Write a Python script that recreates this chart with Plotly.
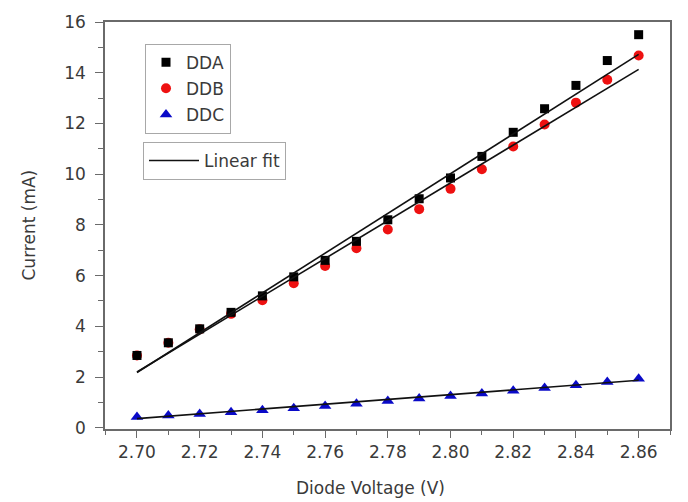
import numpy as np
import plotly.graph_objects as go

voltage = [2.70, 2.71, 2.72, 2.73, 2.74, 2.75, 2.76, 2.77, 2.78,
           2.79, 2.80, 2.81, 2.82, 2.83, 2.84, 2.85, 2.86]
dda = [2.85, 3.35, 3.90, 4.55, 5.20, 5.95, 6.60, 7.35, 8.20,
       9.03, 9.85, 10.70, 11.65, 12.58, 13.50, 14.48, 15.50]
ddb = [2.85, 3.35, 3.88, 4.49, 5.03, 5.70, 6.38, 7.08, 7.82,
       8.62, 9.42, 10.19, 11.09, 11.96, 12.82, 13.72, 14.68]
ddc = [0.42, 0.48, 0.54, 0.61, 0.69, 0.77, 0.86, 0.95, 1.05,
       1.15, 1.25, 1.35, 1.46, 1.57, 1.68, 1.80, 1.93]

series_names = ["DDA", "DDB", "DDC"]
# linear fit parameters: value at 2.70 V and slope (mA/V)
fit_start = [2.18, 2.20, 0.36]
fit_slope = [78.4, 74.56, 9.44]
fit_v0 = 2.70

x_ticks = [2.70, 2.72, 2.74, 2.76, 2.78, 2.80, 2.82, 2.84, 2.86]
x_ticklabels = ["2.70", "2.72", "2.74", "2.76", "2.78", "2.80", "2.82", "2.84", "2.86"]
y_ticks = [0, 2, 4, 6, 8, 10, 12, 14, 16]

FONT = "DejaVu Sans"
TXT = "#3a3a3a"
AX = "#6a6a6a"

fig = go.Figure()

marker_styles = {
    "DDA": dict(symbol="square", size=9, color="#000000"),
    "DDB": dict(symbol="circle", size=10, color="#ee1111"),
    "DDC": dict(symbol="triangle-up", size=11, color="#0a0ac8"),
}
data_map = {"DDA": dda, "DDB": ddb, "DDC": ddc}
rank = {"DDA": 1, "DDB": 2, "DDC": 3}

for name in ["DDB", "DDA", "DDC"]:
    fig.add_trace(go.Scatter(
        x=voltage, y=data_map[name], mode="markers", name=name,
        marker=dict(line=dict(width=0), **marker_styles[name]),
        legend="legend", legendgroup=name, legendrank=rank[name],
    ))

v = np.array(voltage)
for i, name in enumerate(series_names):
    yfit = fit_start[i] + fit_slope[i] * (v - fit_v0)
    fig.add_trace(go.Scatter(
        x=voltage, y=yfit.tolist(), mode="lines", name="Linear fit",
        line=dict(color="#111111", width=1.6),
        legend="legend2", showlegend=(i == 0),
    ))

L, R, T, B = 105, 18, 15, 73
W, H = 688, 502
pw, ph = W - L - R, H - T - B

def px_x(px):
    return (px - L) / pw

def px_y(py):
    return (H - B - py) / ph

fig.update_layout(
    width=W, height=H,
    margin=dict(l=L, r=R, t=T, b=B, pad=0),
    paper_bgcolor="white", plot_bgcolor="white",
    font=dict(family=FONT, size=17, color=TXT),
    showlegend=True,
    legend=dict(
        x=px_x(145), y=px_y(37), xanchor="left", yanchor="top",
        bgcolor="white", bordercolor="#a8a8a8", borderwidth=1,
        font=dict(family=FONT, size=17, color=TXT),
        tracegroupgap=1, traceorder="grouped",
        itemwidth=30,
    ),
    legend2=dict(
        x=px_x(143), y=px_y(137), xanchor="left", yanchor="top",
        bgcolor="white", bordercolor="#a8a8a8", borderwidth=1,
        font=dict(family=FONT, size=17, color=TXT),
        itemwidth=50,
    ),
    xaxis=dict(
        range=[2.6898, 2.8700],
        tickmode="array", tickvals=x_ticks, ticktext=x_ticklabels,
        ticks="outside", ticklen=7, tickwidth=1.2, tickcolor=AX,
        minor=dict(tickmode="linear", tick0=2.70, dtick=0.01, ticks="outside",
                   ticklen=4, tickwidth=1.2, tickcolor=AX, showgrid=False),
        showline=True, linecolor=AX, linewidth=1.5, mirror=True,
        showgrid=False, zeroline=False,
        tickfont=dict(family=FONT, size=17, color=TXT),
    ),
    yaxis=dict(
        range=[-0.05, 16],
        tickmode="array", tickvals=y_ticks,
        ticks="outside", ticklen=8, tickwidth=1.2, tickcolor=AX,
        minor=dict(tickmode="linear", tick0=0, dtick=1, ticks="outside",
                   ticklen=5, tickwidth=1.2, tickcolor=AX, showgrid=False),
        showline=True, linecolor=AX, linewidth=1.5, mirror=True,
        showgrid=False, zeroline=False,
        tickfont=dict(family=FONT, size=17, color=TXT),
        ticklabelstandoff=6,
    ),
    annotations=[
        dict(text="Diode Voltage (V)", xref="paper", yref="paper",
             x=px_x(370), y=px_y(489), xanchor="center", yanchor="middle",
             showarrow=False, font=dict(family=FONT, size=17, color=TXT)),
        dict(text="Current (mA)", xref="paper", yref="paper",
             x=px_x(28), y=px_y(222), xanchor="center", yanchor="middle",
             textangle=-90, showarrow=False,
             font=dict(family=FONT, size=17, color=TXT)),
    ],
)

fig.write_html("out.html")
